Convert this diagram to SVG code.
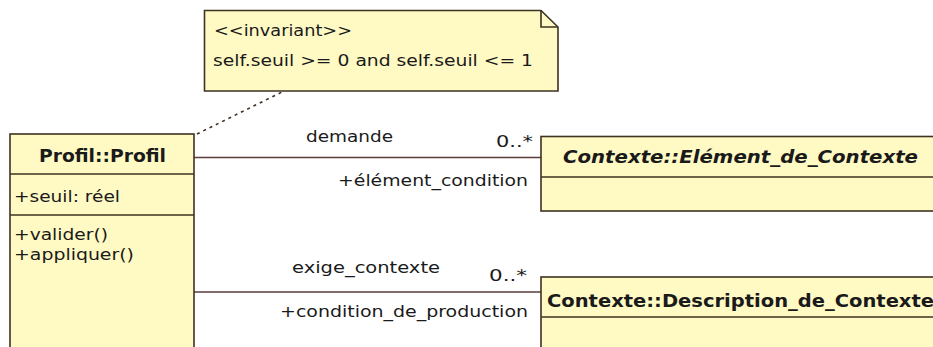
<svg xmlns="http://www.w3.org/2000/svg" width="933" height="347" viewBox="0 0 933 347">
<style>
.box{fill:#fff9c4;stroke:#3e3222;stroke-width:1.6}
.sep{stroke:#3e3222;stroke-width:1.6}
.t{font-family:"DejaVu Sans","Liberation Sans",sans-serif;font-size:16.5px;fill:#1a1a1a}
.b{font-weight:bold;font-size:17px}
.i{font-style:italic}
.conn{stroke:#5a3e3a;stroke-width:1.6;fill:none}
.dash{stroke:#3e3222;stroke-width:1.6;stroke-dasharray:3 4;fill:none}
</style>
<rect width="933" height="347" fill="#ffffff"/>
<g id="connectors">
<line class="conn" x1="194" y1="157.5" x2="541" y2="157.5"/>
<line class="conn" x1="194" y1="292" x2="541" y2="292"/>
<line class="dash" x1="197" y1="134" x2="282" y2="92"/>
<text class="t" x="306" y="142" textLength="87" lengthAdjust="spacingAndGlyphs">demande</text>
<text class="t" x="496" y="147" textLength="37" lengthAdjust="spacingAndGlyphs">0..*</text>
<text class="t" x="338" y="186" textLength="190" lengthAdjust="spacingAndGlyphs">+élément_condition</text>
<text class="t" x="292" y="273" textLength="148" lengthAdjust="spacingAndGlyphs">exige_contexte</text>
<text class="t" x="489" y="281" textLength="38" lengthAdjust="spacingAndGlyphs">0..*</text>
<text class="t" x="280" y="317" textLength="248" lengthAdjust="spacingAndGlyphs">+condition_de_production</text>
</g>
<g id="note">
<path class="box" d="M204.5,10.5 H541 L558,27 V91 H204.5 Z"/>
<path class="sep" fill="none" d="M541,10.5 V27 H558"/>
<text class="t" x="214" y="36" textLength="138" lengthAdjust="spacingAndGlyphs">&lt;&lt;invariant&gt;&gt;</text>
<text class="t" x="213" y="66" textLength="320" lengthAdjust="spacingAndGlyphs">self.seuil &gt;= 0 and self.seuil &lt;= 1</text>
</g>
<g id="profil">
<rect class="box" x="10" y="134" width="184" height="230"/>
<line class="sep" x1="10" y1="174" x2="194" y2="174"/>
<line class="sep" x1="10" y1="215" x2="194" y2="215"/>
<text class="t b" x="102.5" y="162" text-anchor="middle" textLength="127" lengthAdjust="spacingAndGlyphs">Profil::Profil</text>
<text class="t" x="14" y="202" textLength="106" lengthAdjust="spacingAndGlyphs">+seuil: réel</text>
<text class="t" x="14" y="240" textLength="94" lengthAdjust="spacingAndGlyphs">+valider()</text>
<text class="t" x="14" y="260" textLength="120" lengthAdjust="spacingAndGlyphs">+appliquer()</text>
</g>
<g id="element">
<rect class="box" x="541" y="136.5" width="410" height="74.5"/>
<line class="sep" x1="541" y1="177" x2="951" y2="177"/>
<text class="t b i" x="563" y="163" textLength="355" lengthAdjust="spacingAndGlyphs">Contexte::Elément_de_Contexte</text>
</g>
<g id="description">
<rect class="box" x="541" y="277" width="410" height="90"/>
<line class="sep" x1="541" y1="317" x2="951" y2="317"/>
<text class="t b" x="547" y="307" textLength="387" lengthAdjust="spacingAndGlyphs">Contexte::Description_de_Contexte</text>
</g>
</svg>
